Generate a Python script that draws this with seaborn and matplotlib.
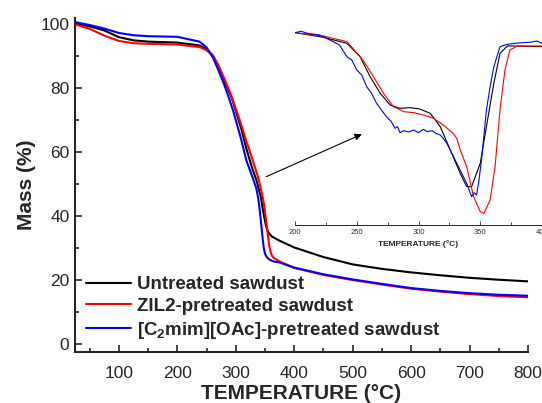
import matplotlib
matplotlib.use('Agg')
import matplotlib.pyplot as plt
import seaborn as sns
import pandas as pd

# TGA curves (main plot)
temp = [25, 50, 75, 100, 125, 150, 200, 238, 250, 261, 270, 280, 290, 295, 305, 310,
        318, 324, 329, 335, 338, 340, 343, 346, 348, 350, 352, 355, 357, 360, 362, 365,
        375, 400, 450, 500, 550, 600, 650, 700, 750, 800]
mass_untreated = [100.3, 99.4, 98.1, 96.0, 95.0, 94.6, 94.3, 93.4, 92.2, 90.2, 87.0, 82.7,
                  78.3, 76.0, 70.0, 67.0, 61.2, 57.5, 54.5, 51.5, 49.5, 48.0, 46.0, 42.5,
                  40.5, 38.5, 36.8, 35.2, 34.6, 34.0, 33.6, 33.3, 32.3, 30.2, 27.2, 24.9,
                  23.5, 22.4, 21.5, 20.7, 20.1, 19.6]
mass_zil2 = [100.0, 98.6, 96.5, 94.8, 94.1, 93.9, 93.7, 92.9, 91.9, 90.2, 87.3, 83.2, 78.8,
             76.2, 71.0, 68.2, 63.5, 60.3, 57.5, 54.0, 52.3, 51.0, 48.5, 46.0, 44.0, 41.5,
             38.5, 34.0, 31.0, 28.5, 27.6, 26.9, 25.8, 23.8, 21.6, 20.0, 18.6, 17.3, 16.4,
             15.6, 15.0, 14.6]
mass_c2mim = [100.7, 99.8, 98.7, 97.3, 96.6, 96.3, 96.1, 94.6, 92.8, 89.6, 85.8, 81.3, 76.0,
              73.3, 66.8, 63.5, 57.5, 54.5, 52.0, 48.8, 46.0, 43.5, 38.5, 33.0, 30.0, 28.3,
              27.5, 26.8, 26.5, 26.2, 26.0, 25.8, 25.5, 23.9, 21.8, 20.2, 18.8, 17.5, 16.6,
              15.9, 15.4, 15.1]

labels = ['Untreated sawdust', 'ZIL2-pretreated sawdust',
          r'[C$_\mathbf{2}$mim][OAc]-pretreated sawdust']
colors = ['black', 'red', 'blue']

# DTG curves (inset, arbitrary units)
t_untreated = [200, 223, 242, 252.7, 260.8, 269, 277, 285, 293, 301, 309.5, 317.6, 325.7,
               333.8, 339, 343, 350, 355, 361, 366, 372, 377, 400]
dtg_untreated = [-0.68, -0.82, -1.00, -1.40, -2.00, -2.50, -2.85, -2.95, -2.93, -2.97,
                 -3.10, -3.50, -4.20, -4.90, -5.30, -5.30, -4.60, -3.50, -2.20, -1.30,
                 -1.08, -1.08, -1.10]
t_zil2 = [200, 223, 242, 255, 263.5, 271.6, 279.7, 288, 296, 304, 312, 320, 328, 331,
          333.8, 339, 344.6, 350, 353, 358, 362, 366, 370, 374, 380, 400]
dtg_zil2 = [-0.68, -0.78, -0.95, -1.50, -2.00, -2.50, -2.90, -3.05, -3.08, -3.15, -3.25,
            -3.45, -3.70, -3.85, -4.20, -4.70, -5.60, -6.05, -6.10, -5.70, -4.70, -3.00,
            -1.80, -1.20, -1.08, -1.08]
t_c2mim = [200, 205, 210, 220, 231, 236, 242, 246, 250, 254, 258, 262, 266, 270, 274, 278,
           281, 283, 285, 288, 292, 296, 300, 304, 307, 311, 314, 317.6, 320, 323, 327,
           331, 335, 339, 343, 345, 347, 349, 351, 355, 358, 361, 366, 370, 372, 378, 384,
           390, 396, 400]
dtg_c2mim = [-0.68, -0.64, -0.70, -0.75, -0.95, -1.05, -1.40, -1.50, -1.80, -1.95, -2.30,
             -2.50, -2.80, -3.00, -3.20, -3.35, -3.55, -3.50, -3.68, -3.62, -3.66, -3.60,
             -3.68, -3.58, -3.65, -3.62, -3.70, -3.75, -3.85, -4.00, -4.30, -4.60, -4.90,
             -5.20, -5.60, -5.48, -5.55, -5.10, -4.50, -3.00, -2.30, -1.70, -1.10, -1.05,
             -1.03, -1.00, -0.98, -0.97, -0.93, -1.00]

sns.set_style('ticks')
plt.rcParams['font.family'] = ['Liberation Sans', 'DejaVu Sans']
plt.rcParams['mathtext.fontset'] = 'custom'
plt.rcParams['mathtext.rm'] = 'Liberation Sans'
plt.rcParams['mathtext.bf'] = 'Liberation Sans:bold'

df = pd.DataFrame({
    'T': temp * 3,
    'mass': mass_untreated + mass_zil2 + mass_c2mim,
    'sample': [labels[0]] * len(temp) + [labels[1]] * len(temp) + [labels[2]] * len(temp),
})
dtg = pd.DataFrame({
    'T': t_untreated + t_zil2 + t_c2mim,
    'dtg': dtg_untreated + dtg_zil2 + dtg_c2mim,
    'sample': [labels[0]] * len(t_untreated) + [labels[1]] * len(t_zil2) + [labels[2]] * len(t_c2mim),
})

fig = plt.figure(figsize=(5.42, 4.03), dpi=100)
ax = fig.add_axes([0.1384, 0.1266, 0.8358, 0.8288])
sns.lineplot(data=df, x='T', y='mass', hue='sample', palette=colors, linewidth=1.5,
             ax=ax, sort=False)

ax.set_xlim(25, 800)
ax.set_ylim(-2.5, 102)
ax.set_xticks(range(100, 801, 100))
ax.set_xticks(range(50, 801, 50), minor=True)
ax.set_yticks(range(0, 101, 20))
ax.set_yticks(range(0, 101, 10), minor=True)
ax.tick_params(which='both', direction='in', width=1.2, labelsize=12.5)
ax.tick_params(which='major', length=5)
ax.tick_params(which='minor', length=3)
ax.tick_params(axis='x', pad=10)
ax.tick_params(axis='y', pad=4)
for s in ['top', 'right']:
    ax.spines[s].set_visible(False)
for s in ['left', 'bottom']:
    ax.spines[s].set_linewidth(1.5)
ax.set_xlabel('TEMPERATURE (°C)', fontsize=15, fontweight='bold', labelpad=2)
ax.set_ylabel('Mass (%)', fontsize=15, fontweight='bold', labelpad=3)

leg = ax.legend(loc='lower left', frameon=False, fontsize=13.5, handlelength=2.4,
                handletextpad=0.3, labelspacing=0.25, borderaxespad=0.2)
for t in leg.get_texts():
    t.set_fontweight('bold')

ax.annotate('', xy=(520, 66), xytext=(348, 52),
            arrowprops=dict(arrowstyle='-|>', color='black', lw=0.8,
                            mutation_scale=10))

# inset DTG
ax2 = fig.add_axes([0.5443, 0.4417, 0.4557, 0.4839])
ax2.patch.set_alpha(0)
sns.lineplot(data=dtg, x='T', y='dtg', hue='sample', palette=colors, linewidth=0.8,
             ax=ax2, legend=False, sort=False)
ax2.set_xlim(200, 400)
ax2.set_ylim(-6.45, -0.6)
ax2.set_xticks(range(200, 401, 50))
ax2.set_xticks(range(200, 401, 25), minor=True)
ax2.set_yticks([])
ax2.tick_params(which='both', direction='in', width=0.6, labelsize=5.5,
                labelcolor='#333333', pad=3)
ax2.tick_params(which='major', length=3)
ax2.tick_params(which='minor', length=2)
for s in ['top', 'right', 'left']:
    ax2.spines[s].set_visible(False)
ax2.spines['bottom'].set_linewidth(0.7)
ax2.set_xlabel('TEMPERATURE (°C)', fontsize=6, fontweight='bold', labelpad=3)
ax2.set_ylabel('')

fig.savefig('out.png', dpi=100)
